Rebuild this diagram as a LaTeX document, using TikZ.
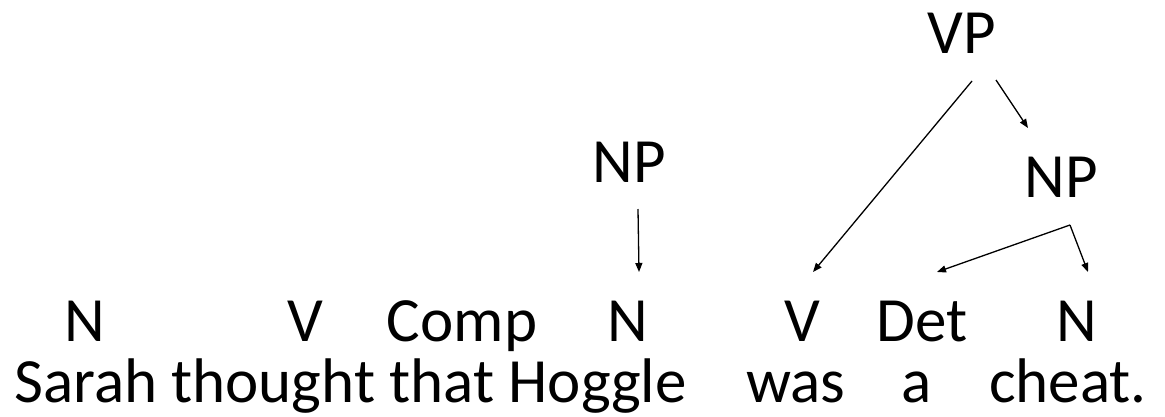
\documentclass[tikz,border=0pt]{standalone}
\usepackage{fontspec}
\setmainfont{Carlito}
\usetikzlibrary{arrows.meta}
\begin{document}
\begin{tikzpicture}[x=1pt,y=-1pt,
  lbl/.style={anchor=base,inner sep=0pt,font=\fontsize{63}{75}\selectfont},
  arr/.style={line width=1.3pt,-{Triangle[length=9pt,width=7pt]}}]
\useasboundingbox (0,0) rectangle (1165,416);
% top labels
\node[lbl] (vp) at (962,53) {VP};
\node[lbl] (np1) at (629.5,182) {NP};
\node[lbl] (np2) at (1061.5,197) {NP};
% categories
\node[lbl] (c1) at (84.5,341) {N};
\node[lbl] (c2) at (305,341) {V};
\node[lbl] (c3) at (462,341) {Comp};
\node[lbl] (c4) at (628,341) {N};
\node[lbl] (c5) at (802,341) {V};
\node[lbl] (c6) at (922,341) {Det};
\node[lbl] (c7) at (1077,341) {N};
% words
\node[lbl,anchor=base west] (w1) at (14,402) {Sarah thought that Hoggle};
\node[lbl] (w5) at (796,402) {was};
\node[lbl] (w6) at (917,402) {a};
\node[lbl] (w7) at (1068,402) {cheat.};
% connector end points
\coordinate (np1s) at (638,209);
\coordinate (c4t) at (639,272);
\coordinate (vpl) at (972,81);
\coordinate (c5t) at (813,272);
\coordinate (vpr) at (996,80);
\coordinate (np2t) at (1028,128);
\coordinate (np2c) at (1070,225);
\coordinate (c6t) at (937,272);
\coordinate (c7t) at (1088,272);
\draw[arr] (np1s) -- (c4t);
\draw[arr] (vpl) -- (c5t);
\draw[arr] (vpr) -- (np2t);
\draw[arr] (np2c) -- (c6t);
\draw[arr] (np2c) -- (c7t);
\end{tikzpicture}
\end{document}
